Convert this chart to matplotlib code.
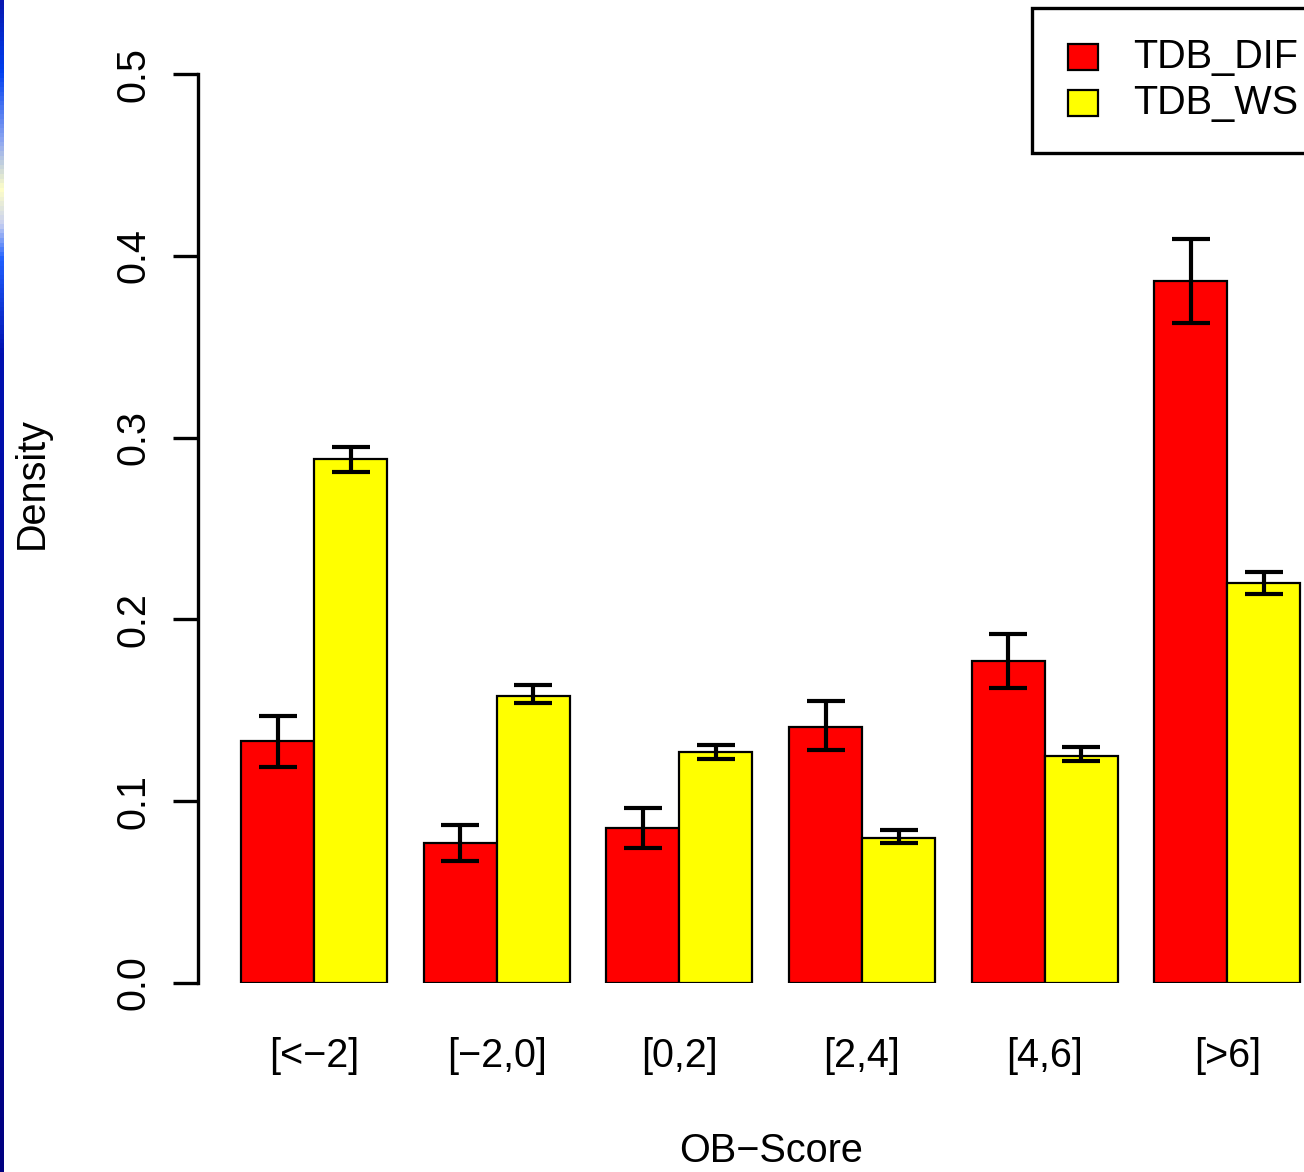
import numpy as np
import matplotlib
matplotlib.use("Agg")
import matplotlib.pyplot as plt
from matplotlib.patches import Rectangle
from matplotlib.colors import LinearSegmentedColormap

# OB-Score bins and densities
bins = ["[<\u22122]", "[\u22122,0]", "[0,2]", "[2,4]", "[4,6]", "[>6]"]
dif = [0.133, 0.077, 0.085, 0.141, 0.177, 0.386]
dif_lo = [0.119, 0.067, 0.074, 0.128, 0.162, 0.363]
dif_hi = [0.147, 0.087, 0.096, 0.155, 0.192, 0.409]
ws = [0.288, 0.158, 0.127, 0.080, 0.125, 0.220]
ws_lo = [0.281, 0.154, 0.123, 0.077, 0.122, 0.214]
ws_hi = [0.295, 0.164, 0.131, 0.084, 0.130, 0.226]
series_names = ["TDB_DIF", "TDB_WS"]
colors = ["#ff0000", "#ffff00"]

plt.rcParams['font.family'] = ['Liberation Sans', 'DejaVu Sans']
FS = 28.5

W, H = 1304, 1172
fig = plt.figure(figsize=(W / 100, H / 100), dpi=100)

# axes placed in pixel terms (R-style plot region)
x0, x1, y0, y1 = 198, 1304, 983, 74
ax = fig.add_axes([x0 / W, 1 - y0 / H, (x1 - x0) / W, (y0 - y1) / H])

centers = np.arange(len(bins)) * 2.5
ax.bar(centers - 0.5, dif, width=1.0, color=colors[0], edgecolor="black", linewidth=1.6)
ax.bar(centers + 0.5, ws, width=1.0, color=colors[1], edgecolor="black", linewidth=1.6)

err_dif = [np.array(dif) - np.array(dif_lo), np.array(dif_hi) - np.array(dif)]
err_ws = [np.array(ws) - np.array(ws_lo), np.array(ws_hi) - np.array(ws)]
ax.errorbar(centers - 0.5, dif, yerr=err_dif, fmt="none", ecolor="black",
            elinewidth=3, capsize=14, capthick=3)
ax.errorbar(centers + 0.5, ws, yerr=err_ws, fmt="none", ecolor="black",
            elinewidth=3, capsize=14, capthick=3)

ax.set_xlim(-1.59, 13.55)
ax.set_ylim(0, 0.5)
for s in ["top", "right", "bottom"]:
    ax.spines[s].set_visible(False)
ax.spines["left"].set_linewidth(2.4)

ax.set_yticks([0.0, 0.1, 0.2, 0.3, 0.4, 0.5])
ax.set_yticklabels(["0.0", "0.1", "0.2", "0.3", "0.4", "0.5"], rotation=90,
                   va="center", fontsize=FS)
ax.tick_params(axis="y", length=18, width=2.4, pad=15)

ax.set_xticks(centers)
ax.set_xticklabels(bins, fontsize=FS)
ax.tick_params(axis="x", length=0, pad=39)

fig.text(32 / W, 1 - 483 / H, "Density", rotation=90, ha="center", va="center", fontsize=FS)
fig.text(771 / W, 1 - 1151 / H, "OB\u2212Score", ha="center", va="center", fontsize=FS)

# legend box (clipped at the right edge like the original)
fig.patches.append(Rectangle((1032 / W, 1 - 153 / H), 300 / W, 145 / H,
                             transform=fig.transFigure, facecolor="white",
                             edgecolor="black", linewidth=2.4, clip_on=False))
for i, (name, c) in enumerate(zip(series_names, colors)):
    yc = 57 + 46 * i
    fig.patches.append(Rectangle((1068 / W, 1 - (yc + 13) / H), 30 / W, 26 / H,
                                 transform=fig.transFigure, facecolor=c,
                                 edgecolor="black", linewidth=1.6))
    fig.text(1133 / W, 1 - yc / H, name, ha="left", va="center", fontsize=FS)

# blue slide background strip on the left edge
strip = fig.add_axes([0, 0, 4 / W, 1])
cmap = LinearSegmentedColormap.from_list("slide", [
    (0.0, "#0818b0"), (0.06, "#0040f0"), (0.12, "#90a8f0"), (0.16, "#ffffc8"),
    (0.19, "#c8d0f0"), (0.22, "#2060ff"), (0.30, "#0010b0"), (1.0, "#000080")])
strip.imshow(np.linspace(0, 1, 256).reshape(-1, 1), aspect="auto", cmap=cmap)
strip.axis("off")

fig.savefig("out.png", dpi=100)
